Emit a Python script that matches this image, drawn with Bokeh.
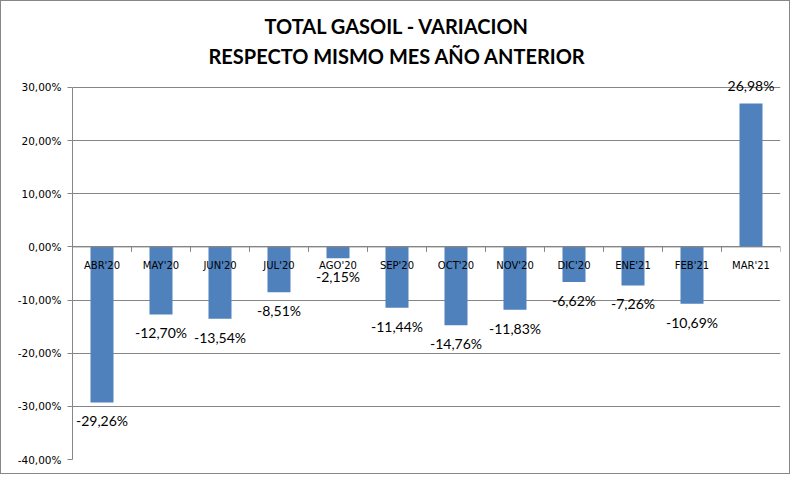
from bokeh.plotting import figure
from bokeh.models import ColumnDataSource, Range1d, FixedTicker, Span, Title, LabelSet
from bokeh.core.properties import value
from bokeh.embed import file_html
from bokeh.resources import INLINE

categories = ["ABR'20", "MAY'20", "JUN'20", "JUL'20", "AGO'20", "SEP'20",
              "OCT'20", "NOV'20", "DIC'20", "ENE'21", "FEB'21", "MAR'21"]
values = [-29.26, -12.70, -13.54, -8.51, -2.15, -11.44,
          -14.76, -11.83, -6.62, -7.26, -10.69, 26.98]
y_ticks = [-40, -30, -20, -10, 0, 10, 20, 30]
title_lines = ["TOTAL GASOIL - VARIACION", "RESPECTO MISMO MES AÑO ANTERIOR"]

def pct(v):
    return f"{v:.2f}".replace(".", ",") + "%"

n = len(categories)
xs = [i + 0.5 for i in range(n)]
labels = [pct(v) for v in values]

GRAY = "#868686"
BLUE = "#4F81BD"

p = figure(width=790, height=474, output_backend="svg", toolbar_location=None,
           x_range=Range1d(0, n), y_range=Range1d(-40, 33),
           min_border_left=71, min_border_right=11, min_border_top=70,
           min_border_bottom=16)
p.title = None
p.styles = {"border": "1px solid #878787"}

p.add_layout(Title(text=title_lines[1], align="left", offset=136,
                   text_font="Lato", text_font_size="20px",
                   text_font_style="bold", text_color="black", standoff=8), "above")
p.add_layout(Title(text=title_lines[0], align="left", offset=192,
                   text_font="Lato", text_font_size="20px",
                   text_font_style="bold", text_color="black", standoff=0), "above")

p.outline_line_color = None
p.xaxis.visible = False
p.xgrid.visible = False
p.ygrid.grid_line_color = GRAY
p.ygrid.ticker = FixedTicker(ticks=y_ticks)

yax = p.yaxis[0]
yax.ticker = FixedTicker(ticks=y_ticks)
yax.bounds = (-40, 30)
yax.major_label_overrides = {t: pct(t) for t in y_ticks}
yax.axis_line_color = GRAY
yax.major_tick_line_color = GRAY
yax.major_tick_out = 5
yax.major_tick_in = 0
yax.minor_tick_line_color = None
yax.major_label_standoff = 6
yax.major_label_text_font = "DejaVu Sans"
yax.major_label_text_font_size = "10.5px"
yax.major_label_text_color = "black"

src = ColumnDataSource(dict(x=xs, top=values, label=labels, cat=categories))
p.vbar(x="x", top="top", bottom=0, width=0.39, source=src,
       fill_color=BLUE, line_color=None)

# zero axis line and boundary ticks
p.add_layout(Span(location=0, dimension="width", line_color=GRAY, line_width=1))
bx = list(range(n + 1))
p.segment(x0=bx, y0=[0] * len(bx), x1=bx, y1=[-0.94] * len(bx),
          line_color=GRAY, line_width=1)

# category labels
p.text(x="x", y=0, text="cat", source=src, text_font=value("DejaVu Sans"),
       text_font_size="10px", text_color="black", text_align="center",
       text_baseline="middle", y_offset=19)

neg = [i for i, v in enumerate(values) if v < 0]
pos = [i for i, v in enumerate(values) if v >= 0]
neg_src = ColumnDataSource(dict(x=[xs[i] for i in neg], y=[values[i] for i in neg],
                                t=[labels[i] for i in neg]))
pos_src = ColumnDataSource(dict(x=[xs[i] for i in pos], y=[values[i] for i in pos],
                                t=[labels[i] for i in pos]))
p.add_layout(LabelSet(x="x", y="y", text="t", source=neg_src, text_font=value("Lato"),
                      text_font_size="14px", text_color="black", text_align="center",
                      text_baseline="top", y_offset=-10))
p.add_layout(LabelSet(x="x", y="y", text="t", source=pos_src, text_font=value("Lato"),
                      text_font_size="14px", text_color="black", text_align="center",
                      text_baseline="bottom", y_offset=9))

open("out.html", "w").write(file_html(p, INLINE))
